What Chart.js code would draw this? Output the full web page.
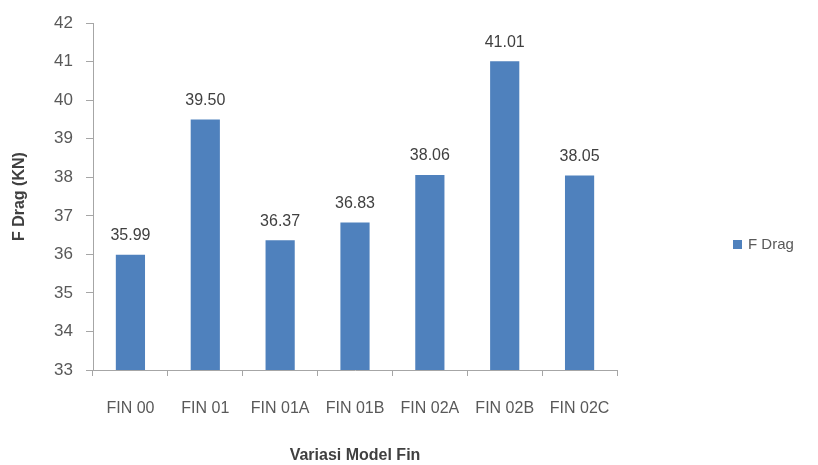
<!DOCTYPE html>
<html>
<head>
<meta charset="utf-8">
<script src="https://cdn.jsdelivr.net/npm/chart.js@4.4.0/dist/chart.umd.min.js"></script>
<style>
  html, body { margin: 0; padding: 0; background: #ffffff; }
  #wrap { width: 818px; height: 465px; }
</style>
</head>
<body>
<div id="wrap"><canvas id="c" width="818" height="465"></canvas></div>
<script>
const categories = ["FIN 00", "FIN 01", "FIN 01A", "FIN 01B", "FIN 02A", "FIN 02B", "FIN 02C"];
const fDrag = [35.99, 39.50, 36.37, 36.83, 38.06, 41.01, 38.05];
const seriesName = "F Drag";
const yTitle = "F Drag (KN)";
const xTitle = "Variasi Model Fin";

const FONT = "'Liberation Sans', Arial, sans-serif";
const BAR = "#4F81BD";
const TXT = "#595959";
const AXIS = "#A6A6A6";

const valueLabels = {
  id: "valueLabels",
  afterDatasetsDraw(chart) {
    const ctx = chart.ctx;
    const meta = chart.getDatasetMeta(0);
    ctx.save();
    ctx.font = "16px " + FONT;
    ctx.fillStyle = "#404040";
    ctx.textAlign = "center";
    ctx.textBaseline = "bottom";
    meta.data.forEach((bar, i) => {
      ctx.fillText(fDrag[i].toFixed(2), bar.x, bar.y - 11);
    });
    ctx.restore();
  }
};

const customLegend = {
  id: "customLegend",
  afterDraw(chart) {
    const ctx = chart.ctx;
    ctx.save();
    ctx.fillStyle = BAR;
    ctx.fillRect(733, 240, 9, 9);
    ctx.font = "15px " + FONT;
    ctx.fillStyle = TXT;
    ctx.textAlign = "left";
    ctx.textBaseline = "middle";
    ctx.fillText(seriesName, 748, 245);
    ctx.restore();
  }
};

new Chart(document.getElementById("c"), {
  type: "bar",
  data: {
    labels: categories,
    datasets: [{
      label: seriesName,
      data: fDrag,
      backgroundColor: BAR,
      borderWidth: 0,
      categoryPercentage: 1.0,
      barPercentage: 0.39
    }]
  },
  options: {
    responsive: false,
    animation: false,
    devicePixelRatio: 1,
    layout: { padding: { left: 0, top: 17, right: 201, bottom: 0 } },
    plugins: {
      legend: { display: false },
      tooltip: { enabled: false }
    },
    scales: {
      x: {
        offset: true,
        grid: {
          offset: true,
          drawOnChartArea: false,
          drawTicks: true,
          tickLength: 6,
          color: AXIS
        },
        border: { display: true, color: AXIS, width: 1 },
        ticks: {
          color: TXT,
          font: { family: FONT, size: 16 },
          padding: 23,
          maxRotation: 0,
          autoSkip: false
        },
        title: {
          display: true,
          text: xTitle,
          color: "#404040",
          font: { family: FONT, size: 16, weight: "bold" },
          padding: { top: 4, bottom: 0 }
        },
        afterFit(scale) { scale.height = 95; }
      },
      y: {
        min: 33,
        max: 42,
        ticks: {
          stepSize: 1,
          color: TXT,
          font: { family: FONT, size: 17 },
          padding: 13
        },
        grid: {
          drawOnChartArea: false,
          drawTicks: true,
          tickLength: 7,
          color: AXIS
        },
        border: { display: true, color: AXIS, width: 1 },
        title: {
          display: true,
          text: yTitle,
          color: "#404040",
          font: { family: FONT, size: 16, weight: "bold" },
          padding: { top: 10, bottom: 0 }
        },
        afterFit(scale) { scale.width = 93; }
      }
    }
  },
  plugins: [valueLabels, customLegend]
});
</script>
</body>
</html>
